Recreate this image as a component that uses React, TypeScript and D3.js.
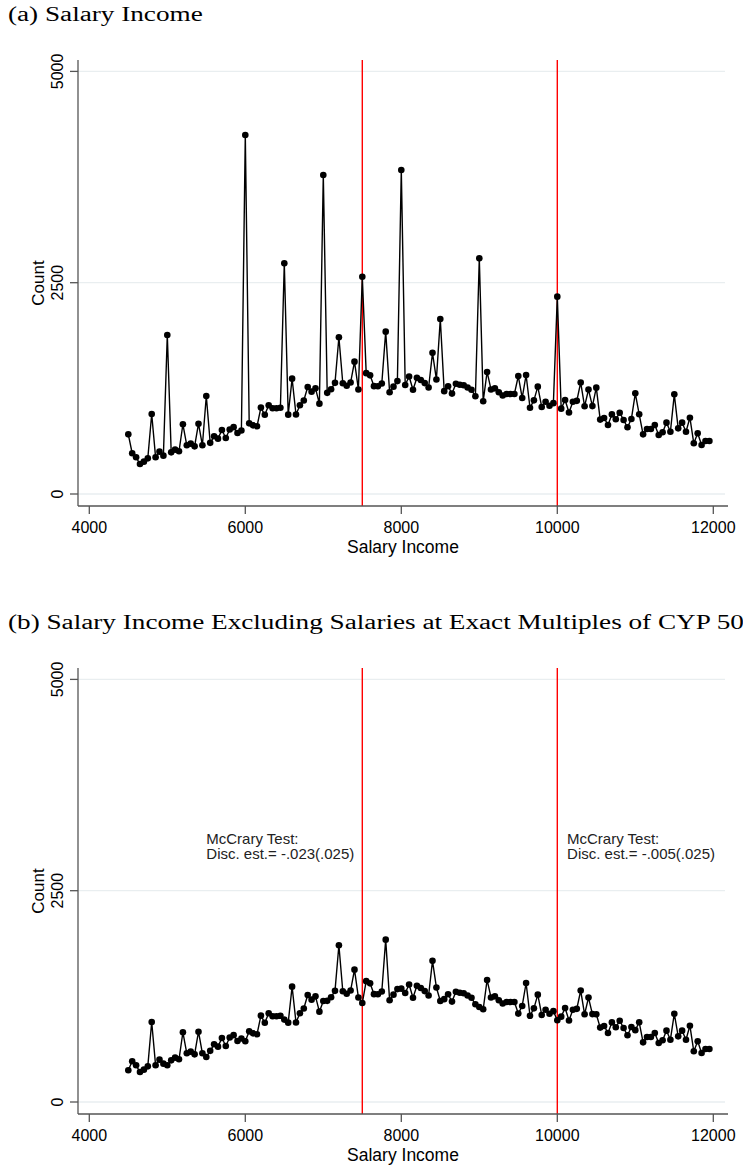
import React from "react";
import * as d3 from "d3";

// Bin starts for salary income (CYP), bin width 50
const binStarts: number[] = d3.range(4500, 12000, 50);

// Counts per bin, all salaries
const countsAll: number[] = [
  706, 482, 434, 355, 383, 422, 946, 434, 501, 454,
  1881, 493, 525, 505, 825, 576, 596, 564, 832, 576,
  1160, 605, 683, 655, 757, 662, 764, 791, 722, 751,
  4247, 836, 812, 801, 1022, 937, 1050, 1014, 1014, 1020,
  2729, 939, 1365, 941, 1050, 1106, 1266, 1211, 1250, 1069,
  3774, 1197, 1240, 1315, 1854, 1311, 1280, 1319, 1566, 1237,
  2571, 1430, 1404, 1276, 1274, 1307, 1921, 1203, 1270, 1336,
  3833, 1290, 1390, 1233, 1375, 1349, 1312, 1260, 1670, 1355,
  2070, 1217, 1275, 1188, 1305, 1292, 1286, 1260, 1233, 1156,
  2788, 1097, 1444, 1237, 1250, 1203, 1166, 1184, 1184, 1184,
  1396, 1136, 1408, 1020, 1108, 1270, 1030, 1092, 1044, 1075,
  2335, 1010, 1112, 965, 1092, 1102, 1319, 1038, 1235, 1040,
  1258, 880, 900, 816, 942, 884, 962, 876, 789, 888,
  1191, 943, 706, 769, 769, 816, 698, 730, 844, 737,
  1179, 777, 844, 737, 903, 600, 718, 580, 627, 627,
];

// Counts per bin, salaries at exact multiples of CYP 500 removed
const countsExcl: number[] = [
  375, 482, 434, 355, 383, 422, 946, 434, 501, 454,
  434, 493, 525, 505, 825, 576, 596, 564, 832, 576,
  533, 605, 683, 655, 757, 662, 764, 791, 722, 751,
  718, 836, 812, 801, 1022, 937, 1050, 1014, 1014, 1020,
  975, 939, 1365, 941, 1050, 1106, 1266, 1211, 1250, 1069,
  1195, 1197, 1240, 1315, 1854, 1311, 1280, 1319, 1566, 1237,
  1171, 1430, 1404, 1276, 1274, 1307, 1921, 1203, 1270, 1336,
  1341, 1290, 1390, 1233, 1375, 1349, 1312, 1260, 1670, 1355,
  1195, 1217, 1275, 1188, 1305, 1292, 1286, 1260, 1233, 1156,
  1124, 1097, 1444, 1237, 1250, 1203, 1166, 1184, 1184, 1184,
  1046, 1136, 1408, 1020, 1108, 1270, 1030, 1092, 1044, 1075,
  967, 1010, 1112, 965, 1092, 1102, 1319, 1038, 1235, 1040,
  1038, 880, 900, 816, 942, 884, 962, 876, 789, 888,
  850, 943, 706, 769, 769, 816, 698, 730, 844, 737,
  1045, 777, 844, 737, 903, 600, 718, 580, 627, 627,
];

const xTicks: number[] = [4000, 6000, 8000, 10000, 12000];
const yTicks: number[] = [0, 2500, 5000];
const thresholds: number[] = [7500, 10000];

// McCrary density test results placed beside each threshold
const mcCraryLines: string[][] = [
  ["McCrary Test:", "Disc. est.= -.023(.025)"],
  ["McCrary Test:", "Disc. est.= -.005(.025)"],
];
const mcCraryAnchorX: number[] = [5500, 10125];
const mcCraryAnchorY: number[] = [3050, 3050];

const W = 743;
const H = 1166;

const sans = "'Liberation Sans', Arial, Helvetica, sans-serif";
const serif = "'Liberation Serif', 'DejaVu Serif', serif";

const x = d3.scaleLinear().domain([4000, 12000]).range([89.3, 713.3]);
const y = d3.scaleLinear().domain([0, 5000]).range([494, 71.4]);

const axisLeft = 78;
const axisBottom = 506;
const plotTop = 60;
const plotRight = 728;

type PanelProps = {
  dy: number;
  title: string;
  counts: number[];
  notes?: string[][];
};

function Panel({ dy, title, counts, notes }: PanelProps) {
  const pts: [number, number][] = binStarts.map((b, i) => [x(b), y(counts[i])]);
  const line = d3.line<[number, number]>()(pts) || "";
  return (
    <g transform={`translate(0,${dy})`}>
      <text
        transform="translate(8,21) scale(1.36,1)"
        fontFamily={serif}
        fontSize={20}
        fill="#000"
      >
        {title}
      </text>
      {/* grid */}
      {yTicks.map((t) => (
        <line key={"g" + t} x1={axisLeft} x2={725} y1={y(t)} y2={y(t)} stroke="#e9eef0" strokeWidth={1.3} />
      ))}
      {/* threshold lines */}
      {thresholds.map((t) => (
        <line key={"r" + t} x1={x(t)} x2={x(t)} y1={plotTop} y2={axisBottom} stroke="#ff0000" strokeWidth={1.4} />
      ))}
      {/* series */}
      <path d={line} fill="none" stroke="#000" strokeWidth={1.4} strokeLinejoin="round" />
      {pts.map((p, i) => (
        <circle key={i} cx={p[0]} cy={p[1]} r={3.3} fill="#000" />
      ))}
      {/* axes */}
      <line x1={axisLeft} x2={axisLeft} y1={plotTop} y2={axisBottom} stroke="#555" strokeWidth={1.3} />
      <line x1={axisLeft} x2={plotRight} y1={axisBottom} y2={axisBottom} stroke="#555" strokeWidth={1.3} />
      {yTicks.map((t) => (
        <g key={"yt" + t}>
          <line x1={axisLeft - 8} x2={axisLeft} y1={y(t)} y2={y(t)} stroke="#555" strokeWidth={1.3} />
          <text
            transform={`translate(63,${y(t)}) rotate(-90)`}
            textAnchor="middle"
            fontFamily={sans}
            fontSize={16}
            fill="#000"
          >
            {t}
          </text>
        </g>
      ))}
      {xTicks.map((t) => (
        <g key={"xt" + t}>
          <line x1={x(t)} x2={x(t)} y1={axisBottom} y2={axisBottom + 8} stroke="#555" strokeWidth={1.3} />
          <text x={x(t)} y={533} textAnchor="middle" fontFamily={sans} fontSize={16} fill="#000">
            {t}
          </text>
        </g>
      ))}
      <text x={403} y={553} textAnchor="middle" fontFamily={sans} fontSize={17.5} fill="#000">
        Salary Income
      </text>
      <text
        transform={`translate(44,${(plotTop + axisBottom) / 2}) rotate(-90)`}
        textAnchor="middle"
        fontFamily={sans}
        fontSize={17}
        fill="#000"
      >
        Count
      </text>
      {notes &&
        notes.map((ls, k) => (
          <text key={"n" + k} fontFamily={sans} fontSize={15} fill="#222">
            {ls.map((s, j) => (
              <tspan key={j} x={x(mcCraryAnchorX[k])} y={y(mcCraryAnchorY[k]) + j * 15}>
                {s}
              </tspan>
            ))}
          </text>
        ))}
    </g>
  );
}

export default function App() {
  return (
    <svg
      width={W}
      height={H}
      viewBox={`0 0 ${W} ${H}`}
      style={{ position: "absolute", left: 0, top: 0, background: "#fff" }}
    >
      <rect width={W} height={H} fill="#fff" />
      <Panel dy={0} title="(a) Salary Income" counts={countsAll} />
      <Panel
        dy={608}
        title="(b) Salary Income Excluding Salaries at Exact Multiples of CYP 500"
        counts={countsExcl}
        notes={mcCraryLines}
      />
    </svg>
  );
}
